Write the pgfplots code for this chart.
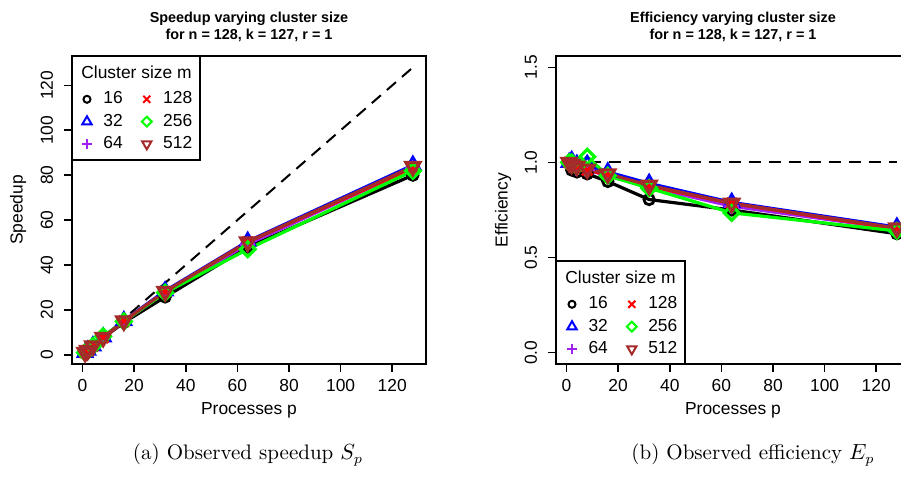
\documentclass[border=0pt]{standalone}
\usepackage{pgfplots}
\pgfplotsset{compat=1.18}
\usepackage{pgfplotstable}
\usepackage{fontspec}
\setsansfont{Liberation Sans}

\definecolor{rpurple}{HTML}{A020F0}
\definecolor{rgreen}{HTML}{00FF00}
\definecolor{rbrown}{HTML}{A52A2A}

% speedup S_p per cluster size m
\pgfplotstableread{
p   s16    s32    s64    s128   s256   s512
1   1.00   1.00   1.00   1.00   1.00   1.00
2   1.92   2.02   1.98   1.98   2.00   1.98
4   3.80   3.96   3.88   3.92   3.92   3.92
8   7.52   7.92   7.68   7.68   8.24   7.72
16  14.40  15.20  14.88  14.96  14.88  15.04
32  25.76  28.48  27.84  28.00  27.68  28.16
64  48.00  50.56  49.28  50.24  47.04  50.24
128 80.00  84.48  83.20  83.20  81.92  83.84
}\speedup

% efficiency E_p per cluster size m
\pgfplotstableread{
p   e16    e32    e64    e128   e256   e512
1   1.00   1.00   1.00   1.00   1.00   1.00
2   0.96   1.01   0.99   0.99   1.00   0.99
4   0.95   0.99   0.97   0.98   0.98   0.98
8   0.94   0.99   0.96   0.96   1.03   0.965
16  0.90   0.95   0.93   0.935  0.93   0.94
32  0.805  0.89   0.87   0.875  0.865  0.88
64  0.75   0.79   0.77   0.785  0.735  0.785
128 0.625  0.66   0.65   0.65   0.64   0.655
}\efficiency

\newcommand{\rfont}{\sffamily\fontsize{8.7}{10}\selectfont}

\pgfplotsset{
  rplot/.style={
    scale only axis, width=177pt, height=154pt,
    xmin=-4.08, xmax=133.08,
    xtick={0,20,...,120},
    axis line style={line width=1.2pt},
    tick align=outside, xtick pos=lower, ytick pos=left,
    major tick length=4pt,
    tick style={line width=0.8pt, black},
    font=\rfont,
    tick label style={font=\rfont},
    /pgf/number format/assume math mode=true,
    xticklabel style={anchor=north, inner sep=0pt},
    yticklabel style={rotate=90, anchor=south, inner sep=0pt},
    xticklabel shift=3.25pt, yticklabel shift=5.25pt,
    every axis title shift=0pt,
    title style={font=\sffamily\bfseries\fontsize{7.2}{8.5}\selectfont, align=center,
      at={(axis description cs:0.5,1.0958)}, anchor=center, yshift=0pt},
    xlabel style={at={(axis description cs:0.5,-0.149)}, anchor=center},
    legend cell align=left,
    legend image code/.code={\draw[#1] plot coordinates {(0pt,0pt)};},
    legend style={draw=none, fill=none, inner sep=0pt, outer sep=0pt,
      anchor=north west, font=\rfont, row sep=3.6pt,
      nodes={inner sep=0pt},
      /tikz/every odd column/.append style={column sep=5.75pt},
      /tikz/every even column/.append style={column sep=9.5pt}},
    legend columns=2,
  },
  ser/.style={line width=1.6pt, mark options={solid, line width=1.4pt}},
  leg/.style={line width=1pt, mark options={solid}},
}

\newcommand{\legendimages}{%
  \addlegendimage{leg, black, mark=o, mark size=1.75pt}\addlegendentry{16}
  \addlegendimage{leg, red, mark=x, mark size=2.5pt}\addlegendentry{128}
  \addlegendimage{leg, blue, mark=triangle, mark size=2.7pt}\addlegendentry{32}
  \addlegendimage{leg, rgreen, mark=square, mark size=1.75pt, mark options={rotate=45}}\addlegendentry{256}
  \addlegendimage{leg, rpurple, mark=+, mark size=2.5pt}\addlegendentry{64}
  \addlegendimage{leg, rbrown, mark=triangle, mark size=2.7pt, mark options={rotate=180}}\addlegendentry{512}
}

\begin{document}
\begin{tikzpicture}
\path[use as bounding box] (0,0) rectangle (450.5pt,-242.5pt);

% legend frames and titles
\draw[line width=1.2pt, fill=white] (36pt,-28pt) rectangle (100pt,-80pt);
\node[anchor=west, inner sep=0pt, font=\rfont] at (40.5pt,-36pt) {Cluster size m};
\draw[line width=1.2pt, fill=white] (278pt,-130.5pt) rectangle (342.5pt,-182pt);
\node[anchor=west, inner sep=0pt, font=\rfont] at (282.5pt,-138.5pt) {Cluster size m};

\begin{axis}[rplot,
  at={(36pt,-182pt)}, anchor=south west,
  ymin=-4.08, ymax=133.08,
  ytick={0,20,...,120},
  title={Speedup varying cluster size\\for n = 128, k = 127, r = 1},
  xlabel={Processes p}, ylabel={Speedup},
  ylabel style={at={(axis description cs:-0.1525,0.5)}, anchor=center},
  legend style={at={(axis description cs:0.0282,0.884)}},
  ]
  \addplot[line width=1pt, dash pattern=on 6pt off 4pt, black, forget plot] coordinates {(1,1) (128,128)};
  \addplot[ser, black, mark=o, mark size=2.6pt, forget plot] table[x=p, y=s16] {\speedup};
  \addplot[ser, blue, mark=triangle, mark size=4pt, forget plot] table[x=p, y=s32] {\speedup};
  \addplot[ser, rpurple, mark=+, mark size=3.7pt, forget plot] table[x=p, y=s64] {\speedup};
  \addplot[ser, red, mark=x, mark size=3.7pt, forget plot] table[x=p, y=s128] {\speedup};
  \addplot[ser, rgreen, mark=square, mark size=2.6pt, mark options={rotate=45}, forget plot] table[x=p, y=s256] {\speedup};
  \addplot[ser, rbrown, mark=triangle, mark size=4pt, mark options={rotate=180}, forget plot] table[x=p, y=s512] {\speedup};
  \legendimages
\end{axis}

\begin{axis}[rplot,
  at={(278pt,-182pt)}, anchor=south west,
  ymin=-0.06, ymax=1.56,
  ytick={0,0.5,1,1.5},
  yticklabel style={/pgf/number format/.cd, fixed, fixed zerofill, precision=1},
  title={Efficiency varying cluster size\\for n = 128, k = 127, r = 1},
  xlabel={Processes p}, ylabel={Efficiency},
  ylabel style={at={(axis description cs:-0.1497,0.5)}, anchor=center},
  legend style={at={(axis description cs:0.0311,0.2185)}},
  axis line style={draw=none},
  after end axis/.code={
    \draw[line width=1.2pt] (rel axis cs:1,1) -- (rel axis cs:0,1)
      -- (rel axis cs:0,0) -- (rel axis cs:1,0);
  },
  ]
  \addplot[line width=1pt, dash pattern=on 6pt off 4pt, black, forget plot] coordinates {(1,1) (128,1)};
  \addplot[ser, black, mark=o, mark size=2.6pt, forget plot] table[x=p, y=e16] {\efficiency};
  \addplot[ser, blue, mark=triangle, mark size=4pt, forget plot] table[x=p, y=e32] {\efficiency};
  \addplot[ser, rpurple, mark=+, mark size=3.7pt, forget plot] table[x=p, y=e64] {\efficiency};
  \addplot[ser, red, mark=x, mark size=3.7pt, forget plot] table[x=p, y=e128] {\efficiency};
  \addplot[ser, rgreen, mark=square, mark size=2.6pt, mark options={rotate=45}, forget plot] table[x=p, y=e256] {\efficiency};
  \addplot[ser, rbrown, mark=triangle, mark size=4pt, mark options={rotate=180}, forget plot] table[x=p, y=e512] {\efficiency};
  \legendimages
\end{axis}

\node[font=\fontsize{10.5}{12}\selectfont] at (124pt,-227.5pt) {(a) Observed speedup $S_p$};
\node[font=\fontsize{10.5}{12}\selectfont] at (376.5pt,-227.5pt) {(b) Observed efficiency $E_p$};
\end{tikzpicture}
\end{document}
